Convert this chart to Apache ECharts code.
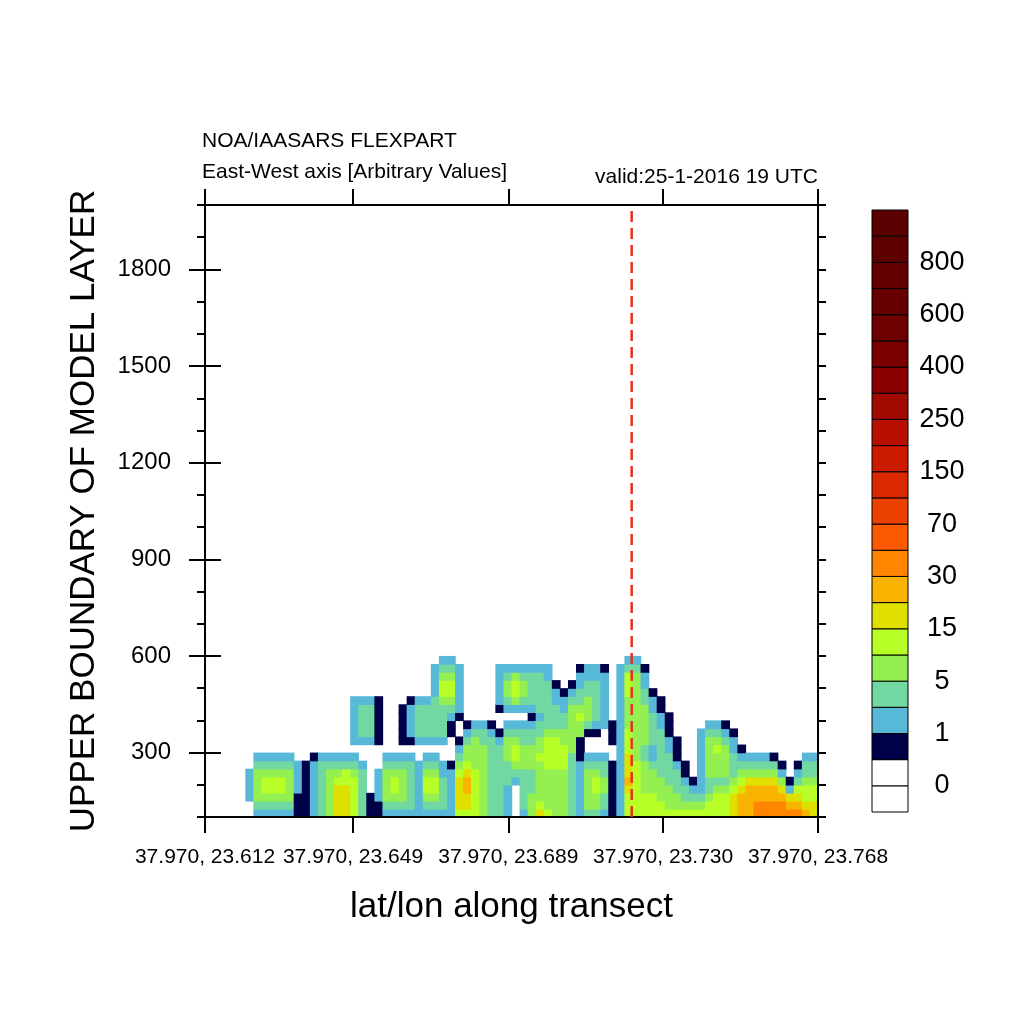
<!DOCTYPE html>
<html><head><meta charset="utf-8">
<script src="https://cdn.jsdelivr.net/npm/echarts@6/dist/echarts.min.js"></script>
<style>html,body{margin:0;padding:0;background:#fff}#c{width:1024px;height:1024px}</style>
</head><body><div id="c"></div>
<script>
// ---------- text ----------
const titleLine1 = 'NOA/IAASARS FLEXPART';
const titleLine2 = 'East-West axis [Arbitrary Values]';
const titleRight = 'valid:25-1-2016 19 UTC';
const xName = 'lat/lon along transect';
const yName = 'UPPER BOUNDARY OF MODEL LAYER';

// ---------- axes ----------
const xTickPos = [0, 18.35, 37.6, 56.8, 76];           // transect index positions
const xTickLabels = ['37.970, 23.612', '37.970, 23.649', '37.970, 23.689', '37.970, 23.730', '37.970, 23.768'];
const yMajorTicks = [300, 600, 900, 1200, 1500, 1800];
const yMin = 100, yMax = 2000, yMinorStep = 100;
const nCols = 76;
const rowBase = 100, rowStep = 25;                      // layer height of a data row
const markerPos = 52.9;                                 // dashed red line position (transect index)

// ---------- colour levels ----------
const levelBounds = [0, 0.5, 1, 2, 5, 10, 15, 20, 30, 50, 70, 100, 150, 200, 250, 300, 400, 500, 600, 700, 800, 900];
const levelColors = ['#ffffff', '#ffffff', '#000048', '#58b8d8', '#70d8a0', '#94f050', '#b8ff28', '#e0e000',
  '#f8b400', '#ff8400', '#fc5a00', '#ec4000', '#dc2800', '#cc1a00', '#b81000', '#a00a00', '#8a0000',
  '#7a0000', '#6e0000', '#660000', '#620000', '#5e0000', '#5a0000'];
// code letter -> colour class (index in levelColors)
const codeClass = { n: 2, b: 3, g: 4, G: 5, y: 6, Y: 7, o: 8, O: 9 };

// ---------- field: one string per transect column, bottom row first ----------
const columns = [
  "....................", "....................", "....................", "....................", "....................",
  "..bbbb..............", "bgGGGGgb............", "bgGyyGgb............", "bgGyyGgb............", "bgGyyGgb............",
  "bgGGGGgb............", "nnnbbbb.............", "nnnnnnn.............", "bbbbbbbn............", "gggggggb............",
  "GGGGGGgb............", "YYYYyGgb............", "YYYYyygb............", "yyyyyGgb.bbbbbb.....", "ggggggb..bggggb.....",
  "nnn......bggggb.....", "nnbbbb...nnnnnn.....", "bgGGGGgb............", "bgGyyGgb............", "bgGGGGgb.nnnnn......",
  "bggggggb.nbbbbn.....", "bbbbbbb..bggggb.....", "bgGyyGgb.bggggb.....", "bgGyyGgb.bgggggbbbb.", "bggggbb..bggggGyyGgb",
  "bbbbbbn...nnbgGyyGgb", "yYYYYyGgbn..nbbbbbb.", "yYYooYyGGgbn........", "yyyyyyGGGGgb........", "GGGGGGGGGggb........",
  "ggggggggggbn........", "gggggggggbn..nbbbbb.", "bbbbgggGGGgb.bgGGgb.", "....bgGyyGgb.bGyyGb.", "bgggggGGGggb.bgGGgb.",
  "GGGgggGGGggbnbggggb.", "YyGGGGGyGGggbgggggb.", "yGGGGGyyyyGggggggbb.", "GGGGGGyyyyGgggbbn...", "GGGGGGyyyGGggbbn....",
  "ggggggggGGGGGGgbn...", "bbbbbbbnnnGGyGggbbn.", "gGGGGGgb..ngGGGggbb.", "gGGyyGgb..nbgggggbb.", "bggGGggb...bbbbbbbn.",
  "nnnnnnn..nnn........", "bbbbbbbbbbbbbbbbbbb.", "yyyYoYYYyyyGGGGyyygb", "yyyyyyyGGGGGGGGGGGgb", "yyyGGGGggGGGGGggbbn.",
  "yyyGGGgbbggggbbn....", "yyGGGggggggbbnn.....", "yGGGggggbbnnn.......", "yGGgggbnnn..........", "yGggbnn.............",
  "yGgbn...............", "yGgbbbbbbbb.........", "yyGggGGGGGgb........", "yyyGgGGGyGgb........", "yyyGgGGGGgbn........",
  "YYYyGgggbbn.........", "oooYyGgbn...........", "ooooYGgb............", "OOooYGgb............", "OOooYGgb............",
  "OOooYGgn............", "OOoYGbn.............", "OoYbn...............", "OoYygbn.............", "oYyyGggb............",
  "YYyyGggb............"
];

// ---------- build series data ----------
const cells = [];
columns.forEach((col, c) => {
  for (let r = 0; r < col.length; r++) {
    const k = codeClass[col[r]];
    if (k !== undefined) cells.push([c, r, k]);
  }
});
const barBoxes = levelColors.map((col, k) => [0, k]);

const FONT = 'Liberation Sans';
const chart = echarts.init(document.getElementById('c'), null, { renderer: 'canvas' });

function fieldItem(params, api) {
  const c = api.value(0), r = api.value(1), k = api.value(2);
  const p0 = api.coord([c, rowBase + r * rowStep]);
  const p1 = api.coord([c + 1, rowBase + (r + 1) * rowStep]);
  return {
    type: 'rect',
    shape: { x: p0[0], y: p1[1], width: p1[0] - p0[0] + 0.7, height: p0[1] - p1[1] + 0.7 },
    style: { fill: levelColors[k], stroke: null }
  };
}
function boxItem(params, api) {
  const k = api.value(1);
  const p0 = api.coord([0, k]);
  const p1 = api.coord([1, k + 1]);
  return {
    type: 'rect',
    shape: { x: p0[0], y: p1[1], width: p1[0] - p0[0], height: p0[1] - p1[1] },
    style: { fill: levelColors[k], stroke: '#000', lineWidth: 1 }
  };
}

const axisLineStyle = { color: '#000', width: 2 };
const titleStyle = { fontFamily: FONT, fontSize: 21, fontWeight: 'normal', color: '#000' };
const option = {
  backgroundColor: '#ffffff',
  animation: false,
  textStyle: { fontFamily: FONT, color: '#000' },
  title: [
    { text: titleLine1, left: 202, top: 131, padding: 0, textStyle: titleStyle },
    { text: titleLine2, left: 202, top: 162, padding: 0, textStyle: titleStyle },
    { text: titleRight, right: 206, top: 167, padding: 0, textStyle: titleStyle }
  ],
  grid: [
    { left: 205, top: 205, width: 613, height: 612, containLabel: false },
    { left: 872, top: 210, width: 36, height: 602, containLabel: false }
  ],
  xAxis: [
    {
      gridIndex: 0, type: 'value', min: 0, max: nCols, position: 'bottom', z: 5,
      axisLine: { show: true, onZero: false, lineStyle: axisLineStyle },
      axisTick: { show: true, customValues: xTickPos, length: 16, inside: false, lineStyle: axisLineStyle },
      axisLabel: {
        show: true, customValues: xTickPos, margin: 30, fontSize: 21, fontFamily: FONT, color: '#000',
        formatter: v => { const i = xTickPos.findIndex(p => Math.abs(p - v) < 1e-6); return i >= 0 ? xTickLabels[i] : ''; }
      },
      splitLine: { show: false },
      name: xName, nameLocation: 'middle', nameGap: 73,
      nameTextStyle: { fontFamily: FONT, fontSize: 35, color: '#000' }
    },
    {
      gridIndex: 0, type: 'value', min: 0, max: nCols, position: 'top', z: 5,
      axisLine: { show: true, onZero: false, lineStyle: axisLineStyle },
      axisTick: { show: true, customValues: xTickPos, length: 16, inside: false, lineStyle: axisLineStyle },
      axisLabel: { show: false },
      splitLine: { show: false }
    },
    { gridIndex: 1, type: 'value', min: 0, max: 1, show: false }
  ],
  yAxis: [
    {
      gridIndex: 0, type: 'value', min: yMin, max: yMax, interval: yMinorStep, position: 'left', z: 5,
      axisLine: { show: true, onZero: false, lineStyle: axisLineStyle },
      axisTick: { show: true, length: 8, inside: false, lineStyle: axisLineStyle },
      axisLabel: { show: false }, splitLine: { show: false }
    },
    {
      gridIndex: 0, type: 'value', min: yMin, max: yMax, position: 'left', z: 5,
      axisLine: { show: false },
      axisTick: { show: true, customValues: yMajorTicks, length: 16, inside: false, lineStyle: axisLineStyle },
      axisLabel: { show: true, customValues: yMajorTicks, margin: 34, fontSize: 24, fontFamily: FONT, color: '#000', formatter: v => String(v) },
      splitLine: { show: false },
      name: yName, nameLocation: 'middle', nameGap: 103, nameRotate: 90,
      nameTextStyle: { fontFamily: FONT, fontSize: 35, color: '#000' }
    },
    {
      gridIndex: 0, type: 'value', min: yMin, max: yMax, interval: yMinorStep, position: 'right', z: 5,
      axisLine: { show: true, onZero: false, lineStyle: axisLineStyle },
      axisTick: { show: true, length: 8, inside: false, lineStyle: axisLineStyle },
      axisLabel: { show: false }, splitLine: { show: false }
    },
    {
      gridIndex: 0, type: 'value', min: yMin, max: yMax, position: 'right', z: 5,
      axisLine: { show: false },
      axisTick: { show: true, customValues: yMajorTicks, length: 16, inside: false, lineStyle: axisLineStyle },
      axisLabel: { show: false }, splitLine: { show: false }
    },
    {
      gridIndex: 1, type: 'value', min: 0, max: levelColors.length, interval: 1, position: 'right',
      axisLine: { show: false }, axisTick: { show: false }, splitLine: { show: false },
      axisLabel: {
        show: true, margin: 34, align: 'center', fontSize: 27, fontFamily: FONT, color: '#000',
        formatter: v => (v % 2 === 1 && v <= levelBounds.length) ? String(levelBounds[v - 1]) : ''
      }
    }
  ],
  series: [
    {
      type: 'custom', name: 'field', xAxisIndex: 0, yAxisIndex: 0, z: 1, clip: true, silent: true,
      renderItem: fieldItem, data: cells
    },
    {
      type: 'line', name: 'marker', xAxisIndex: 0, yAxisIndex: 0, z: 6, silent: true,
      symbol: 'none', data: [[markerPos, yMin], [markerPos, yMax]],
      lineStyle: { color: '#e8301a', width: 2.5, type: [11, 6] }
    },
    {
      type: 'custom', name: 'colorbar', xAxisIndex: 2, yAxisIndex: 4, silent: true,
      renderItem: boxItem, data: barBoxes
    }
  ]
};
chart.setOption(option);
</script>
</body></html>
